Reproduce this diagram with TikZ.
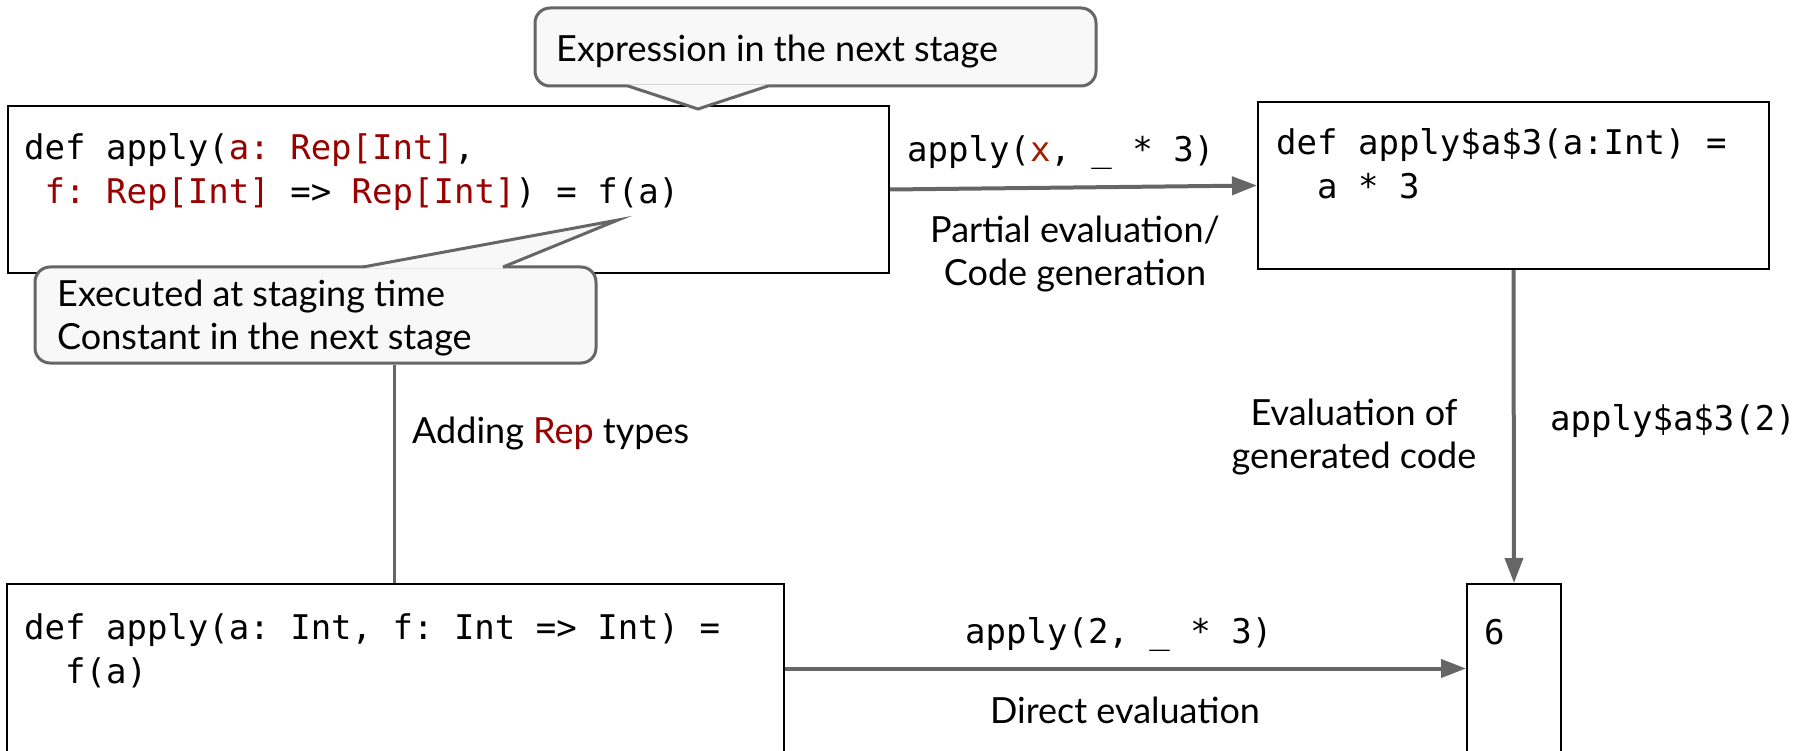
\documentclass[tikz,border=0pt]{standalone}
\usepackage{fontspec}
\setmainfont{Lato}
\setmonofont{DejaVu Sans Mono}
\usetikzlibrary{arrows.meta}
\definecolor{codered}{HTML}{990000}
\definecolor{xred}{HTML}{A61C00}
\definecolor{linegray}{HTML}{666666}
\definecolor{calloutfill}{HTML}{F8F8F8}
\newcommand\LLines[2]{\vtop{\hbox{#1}\hbox{#2}}}
\newcommand\CLines[2]{\vtop{\halign{\hfil##\hfil\cr#1\cr#2\cr}}}
\newcommand\codefont{\ttfamily\fontsize{34}{44}\selectfont}
\newcommand\txtfont{\fontsize{36}{43}\selectfont}
\begin{document}
\begin{tikzpicture}[x=1pt,y=-1pt,
  box/.style={draw=black, line width=2pt, inner sep=0pt},
  callout/.style={draw=linegray, line width=3pt, fill=calloutfill, rounded corners=15pt, inner sep=0pt},
  arr/.style={draw=linegray, line width=4pt, -{Triangle[length=25pt,width=18pt]}},
  plain/.style={draw=linegray, line width=3.5pt},
  lbl/.style={inner sep=0pt, anchor=base west, font=\txtfont},
  code/.style={inner sep=0pt, anchor=base west, font=\codefont}]
\useasboundingbox (0,0) rectangle (1799,751);
\clip (0,0) rectangle (1799,751);
\fill[white] (0,0) rectangle (1799,751);

% boxes
\node[box, minimum width=881pt, minimum height=167pt] (A) at (448.5,189.5) {};
\node[box, minimum width=511pt, minimum height=167pt] (B) at (1513.5,185.5) {};
\node[box, minimum width=777pt, minimum height=169pt] (C) at (395.5,668.5) {};
\node[box, minimum width=94pt, minimum height=169pt] (D) at (1514,668.5) {};

% code in boxes
\node[code] (Atext) at (24,160) {\LLines{def apply({\color{codered}a: Rep[Int]},}{{\color{codered}\phantom{a}f: Rep[Int]} => {\color{codered}Rep[Int]}) = f(a)}};
\node[code] (Btext) at (1276,155) {\LLines{def apply\$a\$3(a:Int) =}{\phantom{aa}a * 3}};
\node[code] (Ctext) at (24,639) {\LLines{def apply(a: Int, f: Int => Int) =}{\phantom{aa}f(a)}};
\node[code] (Dtext) at (1484,644) {6};

% connectors
\draw[arr] (A.east) -- (B.west);
\draw[arr] (B.south) -- (D.north);
\draw[arr] (C.east) -- (D.west);

% callouts
\node[callout, minimum width=561pt, minimum height=78pt] (c1) at (815.5,47) {};
\fill[calloutfill] (628,84.4) -- (628,86) -- (698,109) -- (768,86) -- (768,84.4) -- cycle;
\draw[linegray, line width=3pt] (628,86) -- (698,109) -- (768,86);
\node[lbl] (c1text) at (556,62) {Expression in the next stage};

\node[callout, minimum width=561pt, minimum height=96pt] (c2) at (315.5,315) {};
\fill[calloutfill] (363,268.6) -- (363,267) -- (618,220) -- (503,267) -- (503,268.6) -- cycle;
\draw[linegray, line width=3pt] (363,267) -- (618,220) -- (503,267);
\node[lbl] (c2text) at (57,307) {\LLines{Executed at staging time}{Constant in the next stage}};

\draw[plain] ([xshift=361pt]c2.south west) -- ([xshift=361pt]c2.south west |- C.north);

% labels
\node[code] (l1) at (907,162) {apply({\color{xred}x}, \_ * 3)};
\node[lbl, anchor=base] (l2) at (1075,243) {\CLines{Partial evaluation/}{Code generation}};
\node[lbl, anchor=base] (l3) at (1354,425) {\CLines{Evaluation of}{generated code}};
\node[code] (l4) at (1550,430) {apply\$a\$3(2)};
\node[lbl] (l5) at (412,443) {Adding {\color{codered}Rep} types};
\node[code] (l6) at (965,643) {apply(2, \_ * 3)};
\node[lbl, anchor=base] (l7) at (1125,723) {Direct evaluation};
\end{tikzpicture}
\end{document}
